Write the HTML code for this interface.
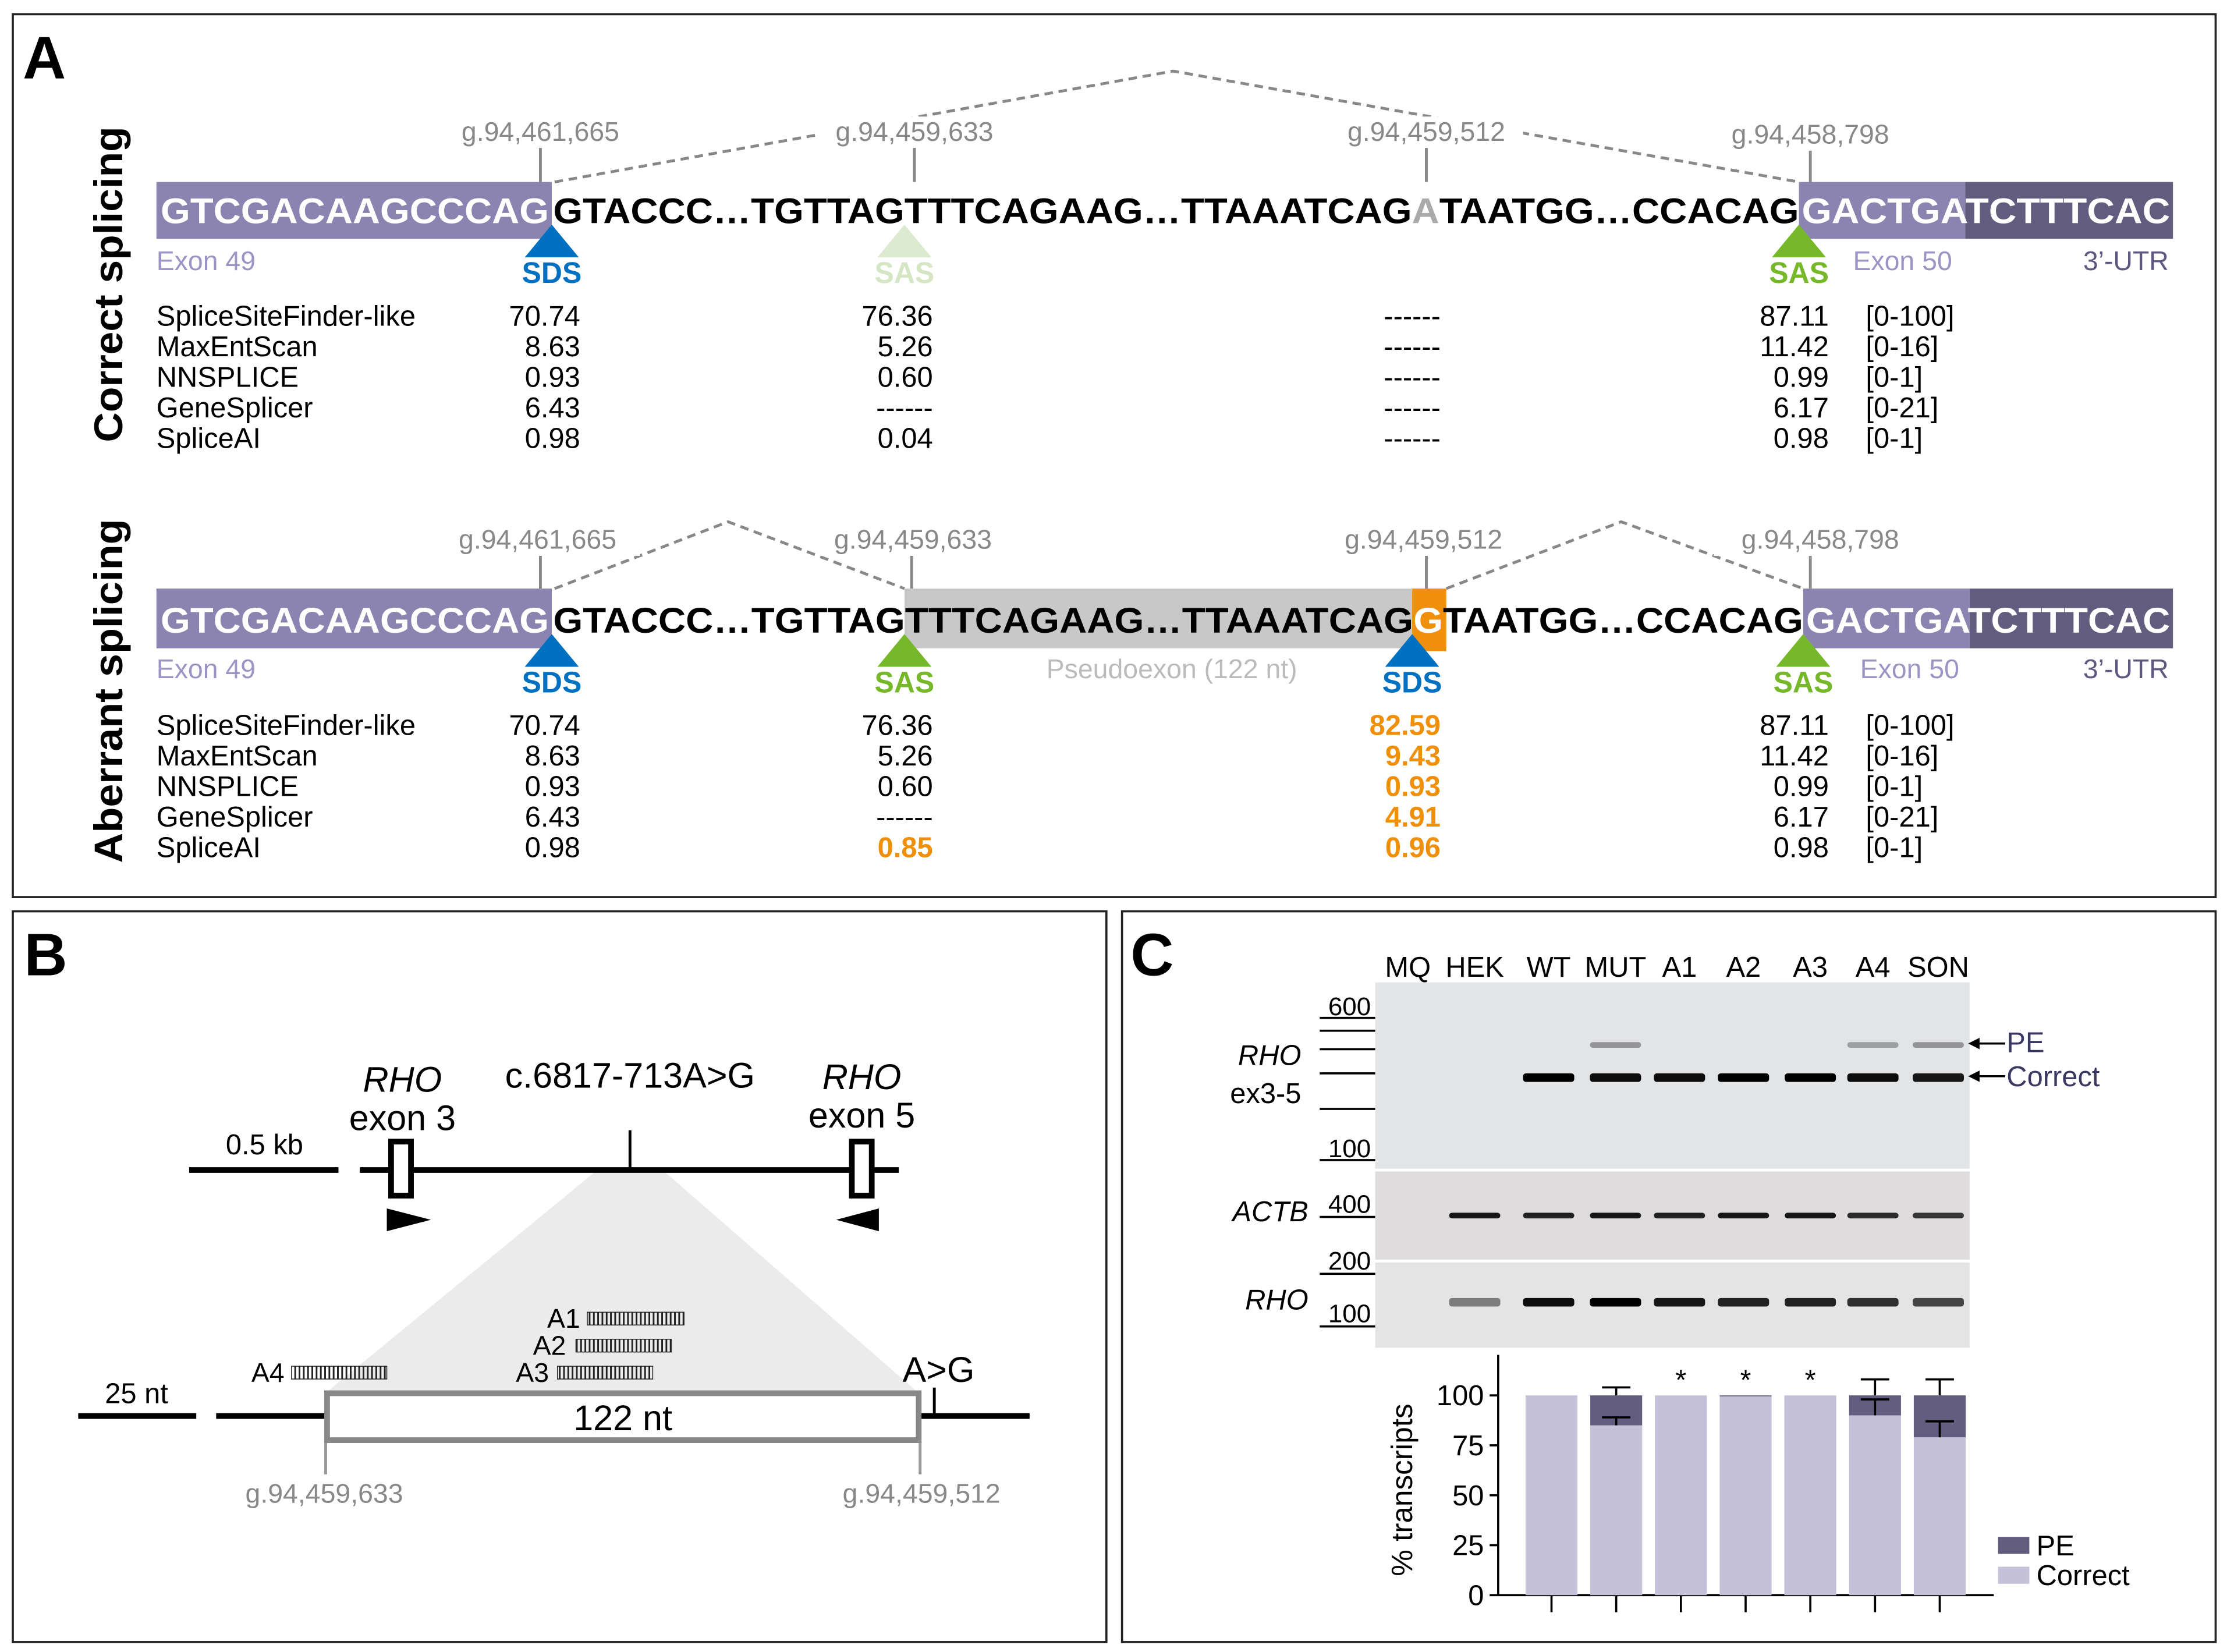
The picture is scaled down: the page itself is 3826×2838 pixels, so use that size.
<!DOCTYPE html>
<html><head><meta charset="utf-8">
<style>
html,body{margin:0;padding:0;background:#fff;}
svg{display:block;}
text{font-family:"Liberation Sans",Arial,sans-serif;}
</style></head>
<body>
<svg id="fig" width="3826" height="2838" viewBox="0 0 1566 1162" preserveAspectRatio="none" xmlns="http://www.w3.org/2000/svg">
<defs>
<pattern id="hatch" width="3" height="12" patternUnits="userSpaceOnUse"><rect x="0" y="0" width="1.2" height="12" fill="#222"/></pattern>
</defs>
<rect width="1566" height="1162" fill="#fff"/>
<rect x="9" y="10" width="1549" height="621" fill="none" stroke="#222" stroke-width="1.5"/>
<rect x="9" y="641" width="769" height="514" fill="none" stroke="#222" stroke-width="1.5"/>
<rect x="789" y="641" width="769" height="514" fill="none" stroke="#222" stroke-width="1.5"/>

<!-- ================= PANEL A ================= -->
<text x="16" y="55" font-size="42" font-weight="bold">A</text>
<text transform="translate(86,200) rotate(-90)" text-anchor="middle" font-size="28" font-weight="bold" textLength="222" lengthAdjust="spacingAndGlyphs">Correct splicing</text>
<text transform="translate(86,486) rotate(-90)" text-anchor="middle" font-size="28" font-weight="bold" textLength="242" lengthAdjust="spacingAndGlyphs">Aberrant splicing</text>

<g>
 <polyline points="390,128 825,50 1265,128" fill="none" stroke="#888" stroke-width="2" stroke-dasharray="6,4"/>
 <rect x="310" y="82" width="140" height="22" fill="#fff"/><rect x="575" y="82" width="140" height="22" fill="#fff"/>
 <rect x="935" y="82" width="136" height="22" fill="#fff"/><rect x="1205" y="84" width="140" height="22" fill="#fff"/>
 <text x="380" y="99" text-anchor="middle" font-size="19" fill="#888">g.94,461,665</text>
 <text x="643" y="99" text-anchor="middle" font-size="19" fill="#888">g.94,459,633</text>
 <text x="1003" y="99" text-anchor="middle" font-size="19" fill="#888">g.94,459,512</text>
 <text x="1273" y="101" text-anchor="middle" font-size="19" fill="#888">g.94,458,798</text>
 <g stroke="#888" stroke-width="2"><line x1="380" y1="104" x2="380" y2="128"/><line x1="643" y1="104" x2="643" y2="128"/><line x1="1003" y1="104" x2="1003" y2="128"/><line x1="1273" y1="106" x2="1273" y2="128"/></g>
 <rect x="110" y="128" width="278" height="40" fill="#8b84b0"/>
 <rect x="1265" y="128" width="117" height="40" fill="#8b84b0"/>
 <rect x="1382" y="128" width="146" height="40" fill="#625c7e"/>
 <text x="113" y="157" font-size="25" font-weight="bold" fill="#fff" textLength="273" lengthAdjust="spacingAndGlyphs">GTCGACAAGCCCAG</text>
 <text x="389" y="157" font-size="25" font-weight="bold" fill="#000" textLength="876" lengthAdjust="spacingAndGlyphs">GTACCC…TGTTAGTTTCAGAAG…TTAAATCAG<tspan fill="#aaa">A</tspan>TAATGG…CCACAG</text>
 <text x="1267" y="157" font-size="25" font-weight="bold" fill="#fff" textLength="259" lengthAdjust="spacingAndGlyphs">GACTGATCTTTCAC</text>
 <polygon points="369,181 407,181 388,158" fill="#0070c0"/>
 <text x="388" y="199" text-anchor="middle" font-size="21" font-weight="bold" fill="#0070c0" textLength="42" lengthAdjust="spacingAndGlyphs">SDS</text>
 <polygon points="617,181 655,181 636,158" fill="#dcebd0"/>
 <text x="636" y="199" text-anchor="middle" font-size="21" font-weight="bold" fill="#d4e6c4" textLength="42" lengthAdjust="spacingAndGlyphs">SAS</text>
 <polygon points="1246,181 1284,181 1265,158" fill="#76b82a"/>
 <text x="1265" y="199" text-anchor="middle" font-size="21" font-weight="bold" fill="#76b82a" textLength="42" lengthAdjust="spacingAndGlyphs">SAS</text>
 <text x="110" y="190" font-size="19" fill="#9b94c4">Exon 49</text>
 <text x="1303" y="190" font-size="19" fill="#9b94c4">Exon 50</text>
 <text x="1525" y="190" text-anchor="end" font-size="19" fill="#5e5880">3’-UTR</text>
</g>

<g>
 <polyline points="390,414 512,367 636,414" fill="none" stroke="#888" stroke-width="2" stroke-dasharray="6,4"/>
 <polyline points="1017,414 1140,367 1268,414" fill="none" stroke="#888" stroke-width="2" stroke-dasharray="6,4"/>
 <rect x="310" y="369" width="140" height="22" fill="#fff"/><rect x="575" y="369" width="140" height="22" fill="#fff"/>
 <rect x="935" y="369" width="136" height="22" fill="#fff"/><rect x="1205" y="369" width="140" height="22" fill="#fff"/>
 <text x="378" y="386" text-anchor="middle" font-size="19" fill="#888">g.94,461,665</text>
 <text x="642" y="386" text-anchor="middle" font-size="19" fill="#888">g.94,459,633</text>
 <text x="1001" y="386" text-anchor="middle" font-size="19" fill="#888">g.94,459,512</text>
 <text x="1280" y="386" text-anchor="middle" font-size="19" fill="#888">g.94,458,798</text>
 <g stroke="#888" stroke-width="2"><line x1="380" y1="391" x2="380" y2="414"/><line x1="641" y1="391" x2="641" y2="414"/><line x1="1003" y1="391" x2="1003" y2="414"/><line x1="1273" y1="391" x2="1273" y2="414"/></g>
 <rect x="110" y="414" width="278" height="42" fill="#8b84b0"/>
 <rect x="636" y="414" width="357" height="42" fill="#c8c8c8"/>
 <rect x="993" y="414" width="24" height="44" fill="#ef8f0a"/>
 <rect x="1268" y="414" width="117" height="42" fill="#8b84b0"/>
 <rect x="1385" y="414" width="143" height="42" fill="#625c7e"/>
 <text x="113" y="445" font-size="25" font-weight="bold" fill="#fff" textLength="273" lengthAdjust="spacingAndGlyphs">GTCGACAAGCCCAG</text>
 <text x="389" y="445" font-size="25" font-weight="bold" fill="#000" textLength="879" lengthAdjust="spacingAndGlyphs">GTACCC…TGTTAGTTTCAGAAG…TTAAATCAG<tspan fill="#fff">G</tspan>TAATGG…CCACAG</text>
 <text x="1270" y="445" font-size="25" font-weight="bold" fill="#fff" textLength="256" lengthAdjust="spacingAndGlyphs">GACTGATCTTTCAC</text>
 <polygon points="369,469 407,469 388,446" fill="#0070c0"/>
 <text x="388" y="487" text-anchor="middle" font-size="21" font-weight="bold" fill="#0070c0" textLength="42" lengthAdjust="spacingAndGlyphs">SDS</text>
 <polygon points="617,469 655,469 636,446" fill="#76b82a"/>
 <text x="636" y="487" text-anchor="middle" font-size="21" font-weight="bold" fill="#76b82a" textLength="42" lengthAdjust="spacingAndGlyphs">SAS</text>
 <polygon points="974,469 1012,469 993,446" fill="#0070c0"/>
 <text x="993" y="487" text-anchor="middle" font-size="21" font-weight="bold" fill="#0070c0" textLength="42" lengthAdjust="spacingAndGlyphs">SDS</text>
 <polygon points="1249,469 1287,469 1268,446" fill="#76b82a"/>
 <text x="1268" y="487" text-anchor="middle" font-size="21" font-weight="bold" fill="#76b82a" textLength="42" lengthAdjust="spacingAndGlyphs">SAS</text>
 <text x="110" y="477" font-size="19" fill="#9b94c4">Exon 49</text>
 <text x="824" y="477" text-anchor="middle" font-size="19" fill="#bbb">Pseudoexon (122 nt)</text>
 <text x="1308" y="477" font-size="19" fill="#9b94c4">Exon 50</text>
 <text x="1525" y="477" text-anchor="end" font-size="19" fill="#5e5880">3’-UTR</text>
</g>

<g id="tables" font-size="20"></g>

<!-- ================= PANEL B ================= -->
<g>
 <text x="17" y="686" font-size="42" font-weight="bold">B</text>
 <polygon points="420,823 466,823 645,979 230,979" fill="#ebebeb"/>
 <line x1="133" y1="823" x2="238" y2="823" stroke="#000" stroke-width="4"/>
 <text x="186" y="812" text-anchor="middle" font-size="20">0.5 kb</text>
 <line x1="253" y1="823" x2="632" y2="823" stroke="#000" stroke-width="4"/>
 <rect x="275" y="803" width="14" height="38" fill="#fff" stroke="#000" stroke-width="4"/>
 <rect x="599" y="803" width="14" height="38" fill="#fff" stroke="#000" stroke-width="4"/>
 <polygon points="272,850 303,858 272,866" fill="#000"/>
 <polygon points="618,850 588,858 618,866" fill="#000"/>
 <line x1="443" y1="795" x2="443" y2="823" stroke="#000" stroke-width="2"/>
 <text x="443" y="765" text-anchor="middle" font-size="25">c.6817-713A&gt;G</text>
 <text x="283" y="768" text-anchor="middle" font-size="25" font-style="italic">RHO</text>
 <text x="283" y="795" text-anchor="middle" font-size="25">exon 3</text>
 <text x="606" y="766" text-anchor="middle" font-size="25" font-style="italic">RHO</text>
 <text x="606" y="793" text-anchor="middle" font-size="25">exon 5</text>
 <line x1="55" y1="996" x2="138" y2="996" stroke="#000" stroke-width="4"/>
 <text x="96" y="987" text-anchor="middle" font-size="20">25 nt</text>
 <line x1="152" y1="996" x2="724" y2="996" stroke="#000" stroke-width="4"/>
 <line x1="229" y1="1014" x2="229" y2="1037" stroke="#999" stroke-width="2"/>
 <line x1="647" y1="1014" x2="647" y2="1037" stroke="#999" stroke-width="2"/>
 <rect x="230" y="980" width="416" height="33" fill="#fff" stroke="#888" stroke-width="4"/>
 <text x="438" y="1006" text-anchor="middle" font-size="25">122 nt</text>
 <line x1="657" y1="976" x2="657" y2="996" stroke="#000" stroke-width="2"/>
 <text x="660" y="972" text-anchor="middle" font-size="25">A&gt;G</text>
 <text x="228" y="1057" text-anchor="middle" font-size="19" fill="#888">g.94,459,633</text>
 <text x="648" y="1057" text-anchor="middle" font-size="19" fill="#888">g.94,459,512</text>
 <text x="408" y="934" text-anchor="end" font-size="19">A1</text><rect x="413" y="923" width="68" height="9" fill="url(#hatch)" stroke="#222" stroke-width="0.6"/>
 <text x="398" y="953" text-anchor="end" font-size="19">A2</text><rect x="405" y="942" width="67" height="9" fill="url(#hatch)" stroke="#222" stroke-width="0.6"/>
 <text x="386" y="972" text-anchor="end" font-size="19">A3</text><rect x="392" y="961" width="67" height="9" fill="url(#hatch)" stroke="#222" stroke-width="0.6"/>
 <text x="200" y="972" text-anchor="end" font-size="19">A4</text><rect x="205" y="961" width="67" height="9" fill="url(#hatch)" stroke="#222" stroke-width="0.6"/>
</g>

<!-- ================= PANEL C ================= -->
<g>
 <text x="795" y="686" font-size="42" font-weight="bold">C</text>
 <rect x="967" y="691" width="418" height="131" fill="#e3e4e6"/>
 <rect x="967" y="824" width="418" height="62" fill="#dedcdd"/>
 <rect x="967" y="888" width="418" height="60" fill="#e4e4e4"/>
 <g stroke="#000" stroke-width="1.5">
  <line x1="928" y1="716" x2="967" y2="716"/><line x1="928" y1="725" x2="967" y2="725"/><line x1="928" y1="738" x2="967" y2="738"/><line x1="928" y1="755" x2="967" y2="755"/><line x1="928" y1="780" x2="967" y2="780"/><line x1="928" y1="816" x2="967" y2="816"/>
  <line x1="928" y1="856" x2="967" y2="856"/><line x1="928" y1="896" x2="967" y2="896"/><line x1="928" y1="933" x2="967" y2="933"/>
 </g>
 <g font-size="18" text-anchor="end">
  <text x="964" y="714">600</text><text x="964" y="814">100</text><text x="964" y="853">400</text><text x="964" y="893">200</text><text x="964" y="930">100</text>
 </g>
 <text x="915" y="749" text-anchor="end" font-size="20" font-style="italic">RHO</text>
 <text x="915" y="776" text-anchor="end" font-size="20">ex3-5</text>
 <text x="920" y="859" text-anchor="end" font-size="20" font-style="italic">ACTB</text>
 <text x="920" y="921" text-anchor="end" font-size="20" font-style="italic">RHO</text>
 <g id="lanes"></g>
 <line x1="1388" y1="734" x2="1410" y2="734" stroke="#000" stroke-width="1.5"/><polygon points="1384,734 1392,730 1392,738"/>
 <text x="1411" y="740" font-size="20" fill="#3a3760">PE</text>
 <line x1="1388" y1="757" x2="1410" y2="757" stroke="#000" stroke-width="1.5"/><polygon points="1384,757 1392,753 1392,761"/>
 <text x="1411" y="764" font-size="20" fill="#3a3760">Correct</text>
 <g id="chart"></g>
</g>
</svg>
<script>
const NS='http://www.w3.org/2000/svg';
function mk(tag,attrs,parent,txt){const e=document.createElementNS(NS,tag);for(const k in attrs)e.setAttribute(k,attrs[k]);if(txt!==undefined)e.textContent=txt;parent.appendChild(e);return e;}

/* ---------- Panel A tables ---------- */
const toolNames=['SpliceSiteFinder-like','MaxEntScan','NNSPLICE','GeneSplicer','SpliceAI'];
const correctSDS=['70.74','8.63','0.93','6.43','0.98'];
const correctSAS1=['76.36','5.26','0.60','------','0.04'];
const correctMid=['------','------','------','------','------'];
const correctSAS2=['87.11','11.42','0.99','6.17','0.98'];
const aberrantSDS=['70.74','8.63','0.93','6.43','0.98'];
const aberrantSAS1=['76.36','5.26','0.60','------','0.85'];
const aberrantSDS2=['82.59','9.43','0.93','4.91','0.96'];
const aberrantSAS2=['87.11','11.42','0.99','6.17','0.98'];
const scoreRanges=['[0-100]','[0-16]','[0-1]','[0-21]','[0-1]'];
const tables=document.getElementById('tables');
function table(y0,c1,c2,c3,c4,hl2,hl3){
  for(let i=0;i<toolNames.length;i++){
    const y=y0+i*21.5;
    let t=mk('text',{x:110,y:y},tables,toolNames[i]);
    
    
    mk('text',{x:408,y:y,'text-anchor':'end'},tables,c1[i]);
    const o2=hl2&&hl2[i];
    mk('text',{x:656,y:y,'text-anchor':'end',fill:o2?'#ef8f0a':'#000','font-weight':o2?'bold':'normal'},tables,c2[i]);
    mk('text',{x:1013,y:y,'text-anchor':'end',fill:hl3?'#ef8f0a':'#000','font-weight':hl3?'bold':'normal'},tables,c3[i]);
    mk('text',{x:1286,y:y,'text-anchor':'end'},tables,c4[i]);
    mk('text',{x:1312,y:y},tables,scoreRanges[i]);
  }
}
table(229,correctSDS,correctSAS1,correctMid,correctSAS2,null,false);
table(517,aberrantSDS,aberrantSAS1,aberrantSDS2,aberrantSAS2,[0,0,0,0,1],true);

/* ---------- Gel lanes ---------- */
const laneNames=['MQ','HEK','WT','MUT','A1','A2','A3','A4','SON'];
const laneCenters=[990,1037,1089,1136,1181,1226,1273,1317,1363];
const peBand=[0,0,0,0.35,0,0,0,0.3,0.35];
const correctBand=[0,0,1,0.95,0.95,1,1,0.95,0.9];
const actbBand=[0,0.9,0.85,0.9,0.85,0.9,0.9,0.8,0.75];
const rhoBand=[0,0.45,0.95,1,0.9,0.85,0.85,0.8,0.7];
const lanes=document.getElementById('lanes');
function band(x,y,h,op){ if(op<=0)return; const r=mk('rect',{x:x-18,y:y-h/2,width:36,height:h,rx:2,fill:'#000','fill-opacity':op},lanes);
 
  }
laneNames.forEach((n,i)=>{
  const x=laneCenters[i];
  const t=mk('text',{x:x,y:687,'text-anchor':'middle','font-size':20},lanes,n);
  
  
  band(x,735,4,peBand[i]);
  band(x,758,6,correctBand[i]);
  band(x,855,4,actbBand[i]);
  band(x,916,6,rhoBand[i]);
});

/* ---------- Bar chart ---------- */
const barCategories=['WT','MUT','A1','A2','A3','A4','SON'];
const correctValues=[100,85,100,99.5,100,90,79];
const peValues=[0,15,0,0.5,0,10,21];
const peErrUpper=[0,104,0,0,0,108,108];
const correctErrLower=[0,89,0,0,0,98,87];
const significant=[false,false,true,true,true,false,false];
const yTicks=[0,25,50,75,100];
const chart=document.getElementById('chart');
const axisX=1053.5, y0=1122, yScale=1.405;
function yPos(v){return y0-v*yScale;}
function xPos(i){return 1091+i*45.5;}
const bw=36.5;
mk('line',{x1:axisX,y1:953,x2:axisX,y2:y0,stroke:'#000','stroke-width':1.5},chart);
mk('line',{x1:axisX,y1:y0,x2:1402,y2:y0,stroke:'#000','stroke-width':1.5},chart);
yTicks.forEach(v=>{
  mk('line',{x1:axisX-6,y1:yPos(v),x2:axisX,y2:yPos(v),stroke:'#000','stroke-width':1.5},chart);
  const t=mk('text',{x:axisX-10,y:yPos(v)+7,'text-anchor':'end','font-size':20},chart,String(v));
  
  
});
const yt=mk('text',{transform:'translate(993,1048) rotate(-90)','text-anchor':'middle','font-size':21},chart,'% transcripts');


barCategories.forEach((c,i)=>{
  const x=xPos(i);
  mk('line',{x1:x,y1:y0,x2:x,y2:y0+12,stroke:'#000','stroke-width':1.5},chart);
  const b=mk('rect',{x:x-bw/2,y:yPos(correctValues[i]),width:bw,height:correctValues[i]*yScale,fill:'#c5c1d9'},chart);
  
  
  if(peValues[i]>0){
    const p=mk('rect',{x:x-bw/2,y:yPos(correctValues[i]+peValues[i]),width:bw,height:peValues[i]*yScale,fill:'#625c7e'},chart);
    
    
  }
  if(peErrUpper[i]>0){
    const top=correctValues[i]+peValues[i];
    mk('line',{x1:x,y1:yPos(top),x2:x,y2:yPos(peErrUpper[i]),stroke:'#000','stroke-width':1.5},chart);
    mk('line',{x1:x-10,y1:yPos(peErrUpper[i]),x2:x+10,y2:yPos(peErrUpper[i]),stroke:'#000','stroke-width':1.5},chart);
    mk('line',{x1:x,y1:yPos(correctValues[i]),x2:x,y2:yPos(correctErrLower[i]),stroke:'#000','stroke-width':1.5},chart);
    mk('line',{x1:x-10,y1:yPos(correctErrLower[i]),x2:x+10,y2:yPos(correctErrLower[i]),stroke:'#000','stroke-width':1.5},chart);
  }
  if(significant[i]){
    const s=mk('text',{x:x,y:yPos(100)-4,'text-anchor':'middle','font-size':20},chart,'*');
    
    
  }
});
const l1=mk('rect',{x:1405,y:1081,width:22,height:12,fill:'#625c7e'},chart);


mk('text',{x:1432,y:1094,'font-size':20},chart,'PE');
const l2=mk('rect',{x:1405,y:1102,width:22,height:12,fill:'#c5c1d9'},chart);


mk('text',{x:1432,y:1115,'font-size':20},chart,'Correct');
</script>
</body></html>
